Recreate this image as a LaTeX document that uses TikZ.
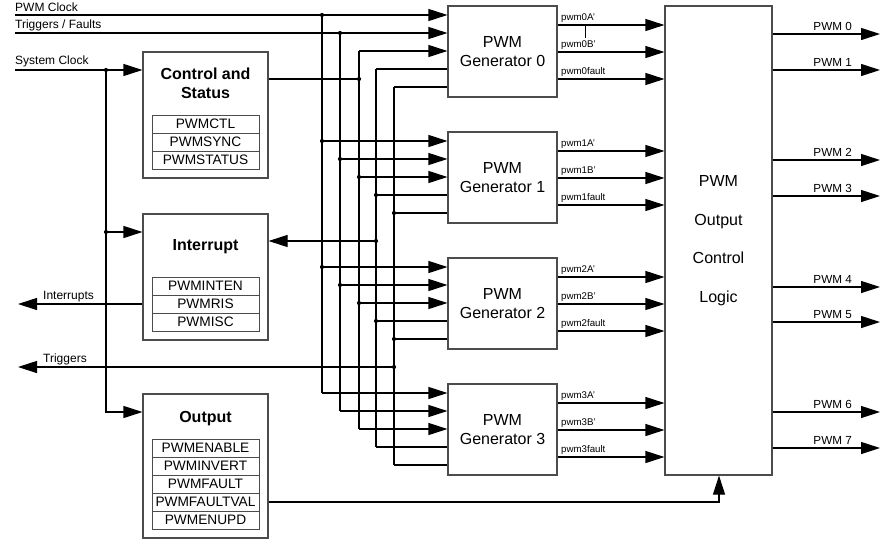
\documentclass[tikz,border=0pt]{standalone}
\usepackage{fontspec}
\setmainfont{Liberation Sans}
\usetikzlibrary{arrows.meta}
\begin{document}
\begin{tikzpicture}[x=1pt,y=-1pt,
  wire/.style={line width=1.1pt, draw=black},
  arr/.style={wire, -{Triangle[length=19pt,width=12pt]}},
  box/.style={draw=black!70, line width=1.1pt, fill=white, inner sep=0pt},
  gen/.style={box, minimum width=109pt, minimum height=91pt, align=center, font=\fontsize{16}{19}\selectfont},
  blk/.style={box, minimum width=125pt},
  reg/.style={draw=black!70, line width=0.9pt, minimum width=107pt, minimum height=18pt, inner sep=0pt, font=\fontsize{13.7}{14}\selectfont},
  ttl/.style={anchor=base, font=\bfseries\fontsize{16}{19}\selectfont},
  lbl/.style={anchor=base west, font=\fontsize{12}{14}\selectfont},
  sig/.style={anchor=base west, inner sep=0pt, font=\fontsize{9.7}{11}\selectfont},
  outlbl/.style={anchor=base east, inner sep=0pt, font=\fontsize{11.7}{13}\selectfont},
  dot/.style={circle, fill=black, inner sep=0pt, minimum size=4.2pt},
]
\useasboundingbox (0,0) rectangle (885,547);
% main blocks
\node[blk, minimum height=126pt] (ctrl) at (205.5,115) {};
\node[blk, minimum height=126pt] (intr) at (205.5,277) {};
\node[blk, minimum height=144pt] (outb) at (205.5,466) {};
\node[box, minimum width=107pt, minimum height=469pt, align=center, font=\fontsize{16}{38.5}\selectfont] (logic) at (718.5,240.5) {PWM\\Output\\Control\\Logic};
% titles
\node[ttl] (ctrlt1) at (205.5,79) {Control and};
\node[ttl] (ctrlt2) at (205.5,98) {Status};
\node[ttl] (intrt) at (205.5,250) {Interrupt};
\node[ttl] (outbt) at (205.5,422) {Output};
% registers
\foreach \n [count=\i from 0] in {PWMCTL,PWMSYNC,PWMSTATUS}
  \node[reg] (cr\i) at (205.5,{124+18*\i}) {\n};
\foreach \n [count=\i from 0] in {PWMINTEN,PWMRIS,PWMISC}
  \node[reg] (ir\i) at (205.5,{286+18*\i}) {\n};
\foreach \n [count=\i from 0] in {PWMENABLE,PWMINVERT,PWMFAULT,PWMFAULTVAL,PWMENUPD}
  \node[reg] (or\i) at (205.5,{448+18*\i}) {\n};
% generators
\foreach \g in {0,...,3}
  \node[gen] (g\g) at (502.5,{51.5+126*\g}) {PWM\\Generator \g};
% bus coordinates
\foreach \g in {0,...,3}
  \foreach \k/\x in {0/322,1/340,2/359,3/376,4/394}
    \coordinate (J\g\k) at (\x,{15+126*\g+18*\k});
\foreach \k in {0,...,4}
  \draw[wire] (J0\k) -- (J3\k);
\foreach \g in {0,...,3} {
  \foreach \k in {0,1,2}
    \draw[arr] (J\g\k) -- (J\g\k -| g\g.west);
  \foreach \k in {3,4}
    \draw[wire] (J\g\k -| g\g.west) -- (J\g\k);
}
\foreach \g in {1,2}
  \foreach \k in {0,...,4}
    \node[dot] (dJ\g\k) at (J\g\k) {};
\node[dot] (dJ00) at (J00) {};
\node[dot] (dJ01) at (J01) {};
% external inputs
\coordinate (pclk) at (15,15);
\coordinate (tflt) at (15,33);
\draw[wire] (pclk) -- (J00);
\draw[wire] (tflt) -- (J01);
\node[lbl, inner sep=0pt] (pclkl) at (15,11.5) {PWM Clock};
\node[lbl, inner sep=0pt] (tfltl) at (15,28.5) {Triggers / Faults};
% system clock
\coordinate (sclk) at (15,70);
\coordinate (S0) at (106,70);
\coordinate (S1) at (106,232);
\coordinate (S2) at (106,412);
\node[lbl, inner sep=0pt] (sclkl) at (15,64.5) {System Clock};
\draw[arr] (sclk) -- (sclk -| ctrl.west);
\draw[arr] (S0) -- (S2) -- (S2 -| outb.west);
\draw[arr] (S1) -- (S1 -| intr.west);
\node[dot] (dS0) at (S0) {};
\node[dot] (dS1) at (S1) {};
% control output
\coordinate (C) at (359,79);
\draw[wire] (C -| ctrl.east) -- (C);
\node[dot] (dC) at (C) {};
% interrupt input
\coordinate (I) at (376,241);
\draw[arr] (I) -- (I -| intr.east);
\node[dot] (dI) at (I) {};
% interrupts out
\coordinate (intout) at (18,304);
\draw[arr] (intout -| intr.west) -- (intout);
\node[lbl, inner sep=0pt] (intoutl) at (43,299.5) {Interrupts};
% triggers out
\coordinate (T) at (394,367);
\coordinate (trout) at (18,367);
\draw[arr] (T) -- (trout);
\node[dot] (dT) at (T) {};
\node[lbl, inner sep=0pt] (troutl) at (43,362) {Triggers};
% output block to logic
\coordinate (O) at (719,502);
\draw[arr] (O -| outb.east) -- (O) -- (O |- logic.south);
% generator outputs
\foreach \g in {0,...,3}
  \foreach \s/\d in {A'/19,B'/46,fault/73} {
    \coordinate (P\g\d) at (600,{6+126*\g+\d});
    \draw[arr] (P\g\d -| g\g.east) -- (P\g\d -| logic.west);
    \node[sig] (P\g\d l) at (561,{1+126*\g+\d}) {pwm\g\s};
  }
% small tick
\coordinate (tk0) at (585,24);
\coordinate (tk1) at (585,38);
\draw[line width=0.8pt] (tk0) -- (tk1);
% logic outputs
\foreach \i/\y in {0/34,1/70,2/160,3/196,4/287,5/322,6/412,7/448} {
  \coordinate (Q\i) at (880,\y);
  \draw[arr] (Q\i -| logic.east) -- (Q\i);
  \node[outlbl] (Q\i l) at (852,{\y-4}) {PWM \i};
}
\end{tikzpicture}
\end{document}
